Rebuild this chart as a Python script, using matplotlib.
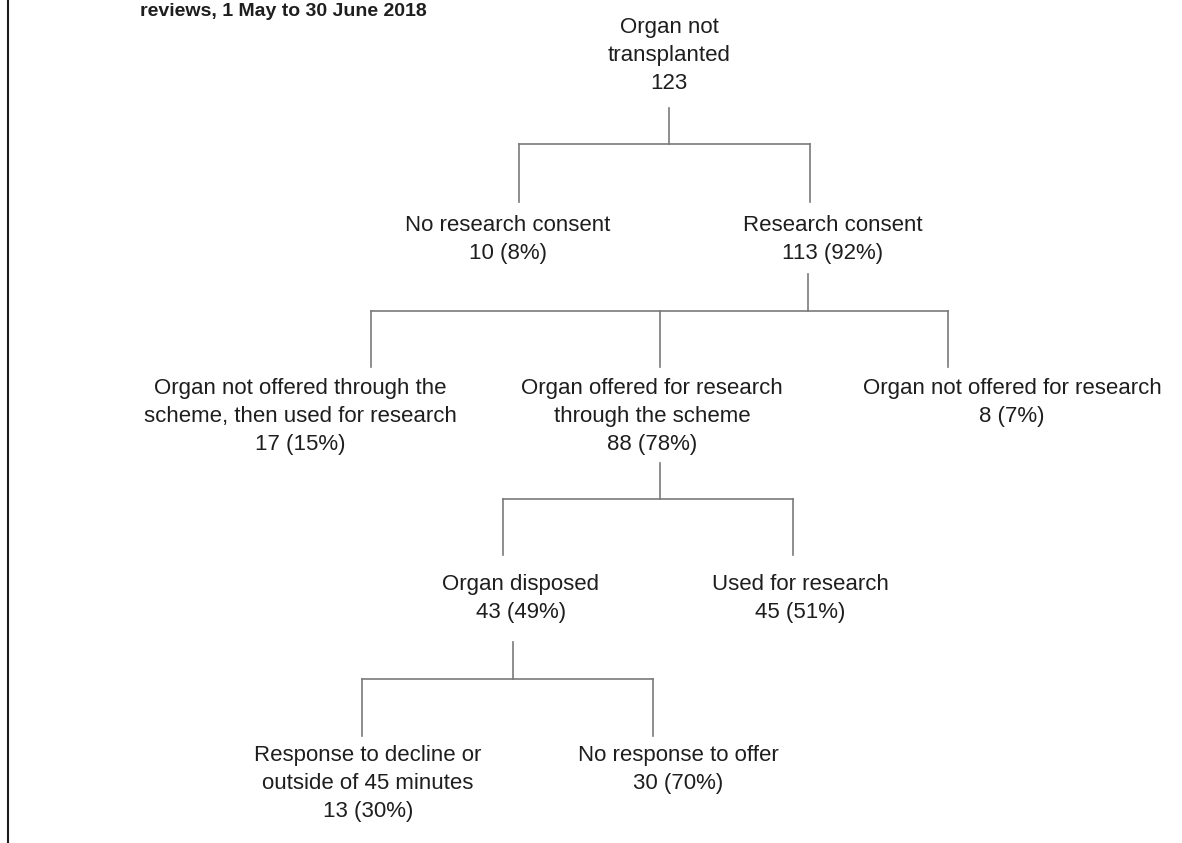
"""
Tree diagram: what happened to organs not transplanted, 1 May to 30 June 2018.
"""

import matplotlib.pyplot as plt

plt.rcParams['font.family'] = ['Liberation Sans', 'DejaVu Sans']

W, H = 1182, 843

title = 'reviews, 1 May to 30 June 2018'

# node data
labels = ['Organ not\ntransplanted',
          'No research consent',
          'Research consent',
          'Organ not offered through the\nscheme, then used for research',
          'Organ offered for research\nthrough the scheme',
          'Organ not offered for research',
          'Organ disposed',
          'Used for research',
          'Response to decline or\noutside of 45 minutes',
          'No response to offer']
counts = [123, 10, 113, 17, 88, 8, 43, 45, 13, 30]
pcts = [None, 8, 92, 15, 78, 7, 49, 51, 30, 70]
parents = [None, 0, 0, 2, 2, 2, 4, 4, 6, 6]

# layout (pixels, y down)
text_x = [669, 508, 833, 300, 652, 1012, 521, 800, 368, 678]
text_y = [25, 223, 223, 386, 386, 386, 582, 582, 753, 753]   # first line centre
drop_x = [None, 519, 810, 371, 660, 948, 503, 793, 362, 653]  # where parent line lands
stem = {0: (669, 108, 144, 202),   # x, stem top, bar y, drop bottom
        2: (808, 274, 311, 367),
        4: (660, 463, 499, 555),
        6: (513, 642, 679, 736)}
LINE = 28
FS = 16
TXT = '#1e1e1e'
LINE_C = '#7a7a7a'


def main():
    fig = plt.figure(figsize=(W / 100, H / 100), dpi=100)
    ax = fig.add_axes([0, 0, 1, 1])
    ax.set_xlim(0, W)
    ax.set_ylim(H, 0)
    ax.axis('off')

    # left frame edge
    ax.plot([8.3, 8.3], [0, H], color='#1a1a1a', lw=1.5, solid_capstyle='butt')

    ax.text(140, 11, title, fontsize=14, fontweight='bold', color=TXT,
            ha='left', va='center')

    for i, lab in enumerate(labels):
        val = f'{counts[i]}' if pcts[i] is None else f'{counts[i]} ({pcts[i]}%)'
        lines = lab.split('\n') + [val]
        for k, s in enumerate(lines):
            ax.text(text_x[i], text_y[i] + k * LINE + 8, s, fontsize=FS,
                    color=TXT, ha='center', va='baseline')

    for p, (sx, top, bar, bottom) in stem.items():
        kids = [i for i, q in enumerate(parents) if q == p]
        xs = [drop_x[i] for i in kids]
        ax.plot([sx, sx], [top, bar], color=LINE_C, lw=1.2)
        ax.plot([min(xs), max(xs)], [bar, bar], color=LINE_C, lw=1.2,
                solid_capstyle='projecting')
        for x in xs:
            ax.plot([x, x], [bar, bottom], color=LINE_C, lw=1.2)

    fig.savefig('out.png', dpi=100, facecolor='white')


if __name__ == '__main__':
    main()
